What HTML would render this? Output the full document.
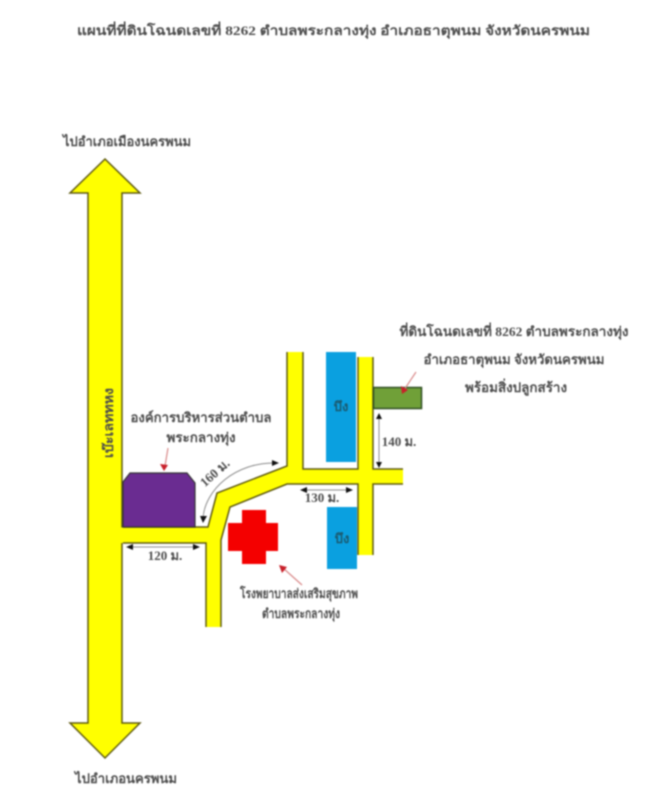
<!DOCTYPE html>
<html lang="th"><head><meta charset="utf-8"><title>แผนที่</title>
<style>
html,body{margin:0;padding:0;background:#fff;width:649px;height:800px;overflow:hidden}
svg{display:block;filter:blur(.7px)}
text{font-family:"Liberation Serif","Noto Serif CJK SC","Noto Sans CJK SC",serif;fill:#4c4c4c;text-anchor:middle;font-size:13px;font-weight:bold}
.r{stroke:#5f5a10;stroke-width:1.5;fill:#ffff00;stroke-linejoin:miter}
.d{stroke:#8a8a8a;stroke-width:1;fill:none}
.k{fill:#111}
.a{stroke:#d98a8a;stroke-width:1.2}
.h{fill:#c8202a}
</style></head><body>
<svg width="649" height="800" viewBox="0 0 649 800" xmlns="http://www.w3.org/2000/svg">
<rect width="649" height="800" fill="#fff"/>
<text x="333.500" y="35" textLength="513" lengthAdjust="spacingAndGlyphs" font-size="15">แผนที่ที่ดินโฉนดเลขที่ 8262 ตำบลพระกลางทุ่ง อำเภอธาตุพนม จังหวัดนครพนม</text>
<text x="127" y="146" textLength="128" lengthAdjust="spacingAndGlyphs">ไปอำเภอเมืองนครพนม</text>
<text x="126" y="783" textLength="102" lengthAdjust="spacingAndGlyphs">ไปอำเภอนครพนม</text>

<polygon class="r" points="105,159 140,193 122,193 122,723 140,723 105,758 70,723 88,723 88,193 70,193"/>

<path d="M120 527.500 H208 L217 493 L287 466 V352 H303 V469 H358 V357 H373 V469 H403 V484 H373 V555 H358 V484 H287 L230 507 L221 540 V627 H206 V543 H120 Z" fill="#ffff00"/>
<path class="r" style="fill:none" d="M123 527 H208 L217 493 L287 466 V352 M303 352 V469 H358 V357 M373 357 V469 H403 M403 484 H373 V555 M358 555 V484 H287 L230 507 L221 540 V627 M206 627 V543 H123"/>

<polygon points="130,473 187,473 195,483 195,527 123,527 123,482" fill="#6a2c91" stroke="#333" stroke-width="1.2"/>
<polygon points="242,510 266,510 266,523 278,523 278,551 266,551 266,564 242,564 242,551 228,551 228,523 242,523" fill="#f40000"/>
<rect x="326" y="352" width="30" height="110" fill="#0aa0e0"/>
<rect x="327" y="507" width="30" height="62" fill="#0aa0e0"/>
<rect x="373.500" y="387.500" width="48" height="21" fill="#70a038" stroke="#2f4f22" stroke-width="1.5"/>

<text transform="translate(108 423) rotate(-90)" textLength="70" lengthAdjust="spacingAndGlyphs" font-size="14" x="0" y="5">เบ๊ะเลททหง</text>
<text x="201" y="422" textLength="141" lengthAdjust="spacingAndGlyphs">องค์การบริหารส่วนตำบล</text>
<text x="201" y="442" textLength="69" lengthAdjust="spacingAndGlyphs">พระกลางทุ่ง</text>
<text transform="translate(215 473) rotate(-42)" x="0" y="4" font-size="12">160 ม.</text>
<text x="165" y="560" font-size="12">120 ม.</text>
<text x="322" y="502" font-size="12">130 ม.</text>
<text x="399" y="446" font-size="12">140 ม.</text>
<text x="341" y="411" font-size="11" style="fill:#1a5a70">บึง</text>
<text x="342" y="543" font-size="11" style="fill:#1a5a70">บึง</text>
<text x="299" y="598" textLength="118" lengthAdjust="spacingAndGlyphs" font-size="12">โรงพยาบาลส่งเสริมสุขภาพ</text>
<text x="301" y="618" textLength="78" lengthAdjust="spacingAndGlyphs" font-size="12">ตำบลพระกลางทุ่ง</text>
<text x="514" y="336" textLength="229" lengthAdjust="spacingAndGlyphs">ที่ดินโฉนดเลขที่ 8262 ตำบลพระกลางทุ่ง</text>
<text x="514" y="364" textLength="181" lengthAdjust="spacingAndGlyphs">อำเภอธาตุพนม จังหวัดนครพนม</text>
<text x="516" y="392" textLength="102" lengthAdjust="spacingAndGlyphs">พร้อมสิ่งปลูกสร้าง</text>

<line class="d" x1="130" y1="547" x2="198" y2="547"/>
<polygon class="k" points="126,547 133,544 133,550"/><polygon class="k" points="200,547 193,544 193,550"/>
<line class="d" x1="304" y1="490" x2="350" y2="490"/>
<polygon class="k" points="300,490 307,487 307,493"/><polygon class="k" points="353,490 346,487 346,493"/>
<line class="d" x1="379" y1="418" x2="379" y2="464"/>
<polygon class="k" points="379,413 376,419 382,419"/><polygon class="k" points="379,468 376,462 382,462"/>
<path class="d" d="M203 518 C205 490,235 462,276 463"/>
<polygon class="k" points="203,523 200,516 207,516"/><polygon class="k" points="279,463 272,460 272,466"/>

<line class="a" x1="168" y1="448" x2="165" y2="466"/><polygon class="h" points="164,471 160,464 168,465"/>
<line class="a" x1="416" y1="372" x2="404" y2="390"/><polygon class="h" points="402,394 401,386 408,390"/>
<line class="a" x1="302" y1="585" x2="283" y2="568"/><polygon class="h" points="279,565 287,567 282,573"/>
</svg>
</body></html>
